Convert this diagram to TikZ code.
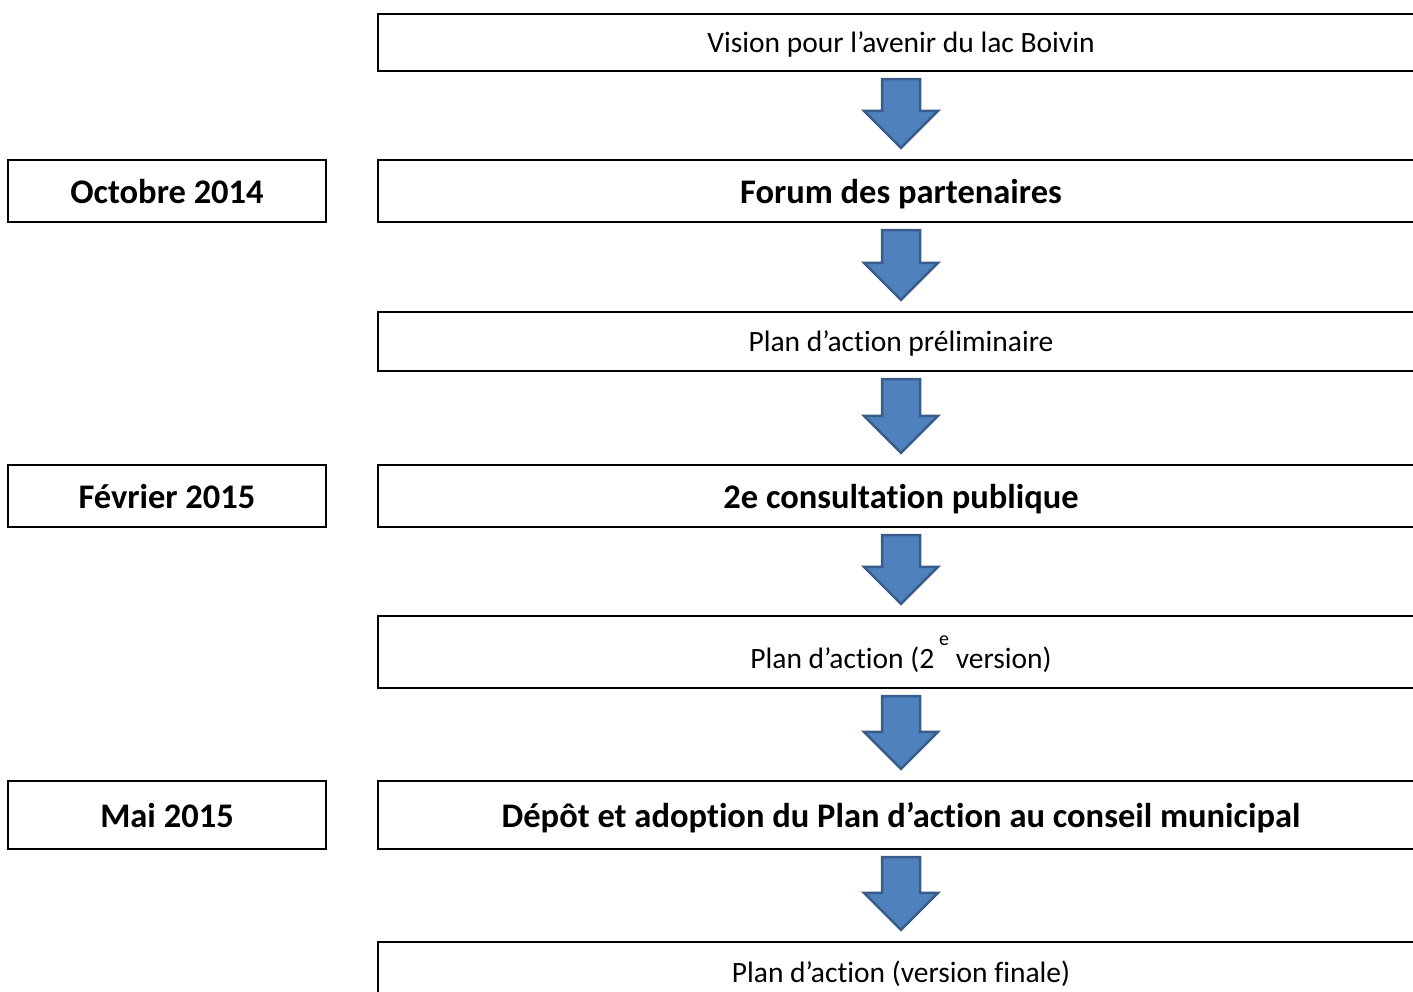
\documentclass[tikz,border=0pt]{standalone}
\usepackage{fontspec}
\setmainfont{Carlito}[RawFeature=-liga]
\usetikzlibrary{calc}

\definecolor{bleuf}{HTML}{4F81BD}
\definecolor{bleub}{HTML}{385D8A}

\newcommand{\fleche}[2]{%
  \filldraw[fleche] let \p1=($(#1.south)+(0,-7)$), \p2=($(#2.north)+(0,11)$) in
    (\x1-7.6pt,\y1) -- (\x1+7.6pt,\y1) -- (\x1+7.6pt,\y2+14.8pt) -- (\x1+14.8pt,\y2+14.8pt)
    -- (\x1,\y2) -- (\x1-14.8pt,\y2+14.8pt) -- (\x1-7.6pt,\y2+14.8pt) -- cycle;}

\begin{document}
\begin{tikzpicture}[y=0.4pt, x=0.4pt,
    etape/.style={draw=black, line width=0.9pt, inner sep=0pt, minimum width=418.4pt,
      text depth=0pt, font=\fontsize{11.8}{14}\selectfont},
    etapeg/.style={etape, font=\fontsize{13.8}{16}\selectfont\bfseries},
    date/.style={draw=black, line width=0.9pt, inner sep=0pt, minimum width=127.2pt,
      text depth=0pt, font=\fontsize{13.8}{16}\selectfont\bfseries},
    fleche/.style={fill=bleuf, draw=bleub, line width=1pt, line join=miter}]
			\useasboundingbox (0,0) rectangle (1413,-992);

			\node[etape, minimum height=22.8pt]  (vision)   at (901,-42.5) {Vision pour l’avenir du lac Boivin};
			\node[etapeg, minimum height=24.8pt] (forum)    at (901,-191)  {Forum des partenaires};
			\node[etape, minimum height=23.6pt]  (prelim)   at (901,-341.5) {Plan d’action préliminaire};
			\node[etapeg, minimum height=24.8pt] (consult)  at (901,-496)  {2e consultation publique};
			\node[etape, minimum height=28.8pt]  (version2) at (901,-652)  {Plan d’action (2\,\raisebox{9pt}{\fontsize{8}{9}\selectfont e} version)};
			\node[etapeg, minimum height=27.2pt] (depot)    at (901,-815)  {Dépôt et adoption du Plan d’action au conseil municipal};
			\node[etape, minimum height=24pt]    (finale)   at (901,-972)  {Plan d’action (version finale)};

			\node[date, minimum height=24.8pt] (oct) at (167,-191) {Octobre 2014};
			\node[date, minimum height=24.8pt] (fev) at (167,-496) {Février 2015};
			\node[date, minimum height=27.2pt] (mai) at (167,-815) {Mai 2015};

			\fleche{vision}{forum}
			\fleche{forum}{prelim}
			\fleche{prelim}{consult}
			\fleche{consult}{version2}
			\fleche{version2}{depot}
			\fleche{depot}{finale}

		\end{tikzpicture}
\end{document}
